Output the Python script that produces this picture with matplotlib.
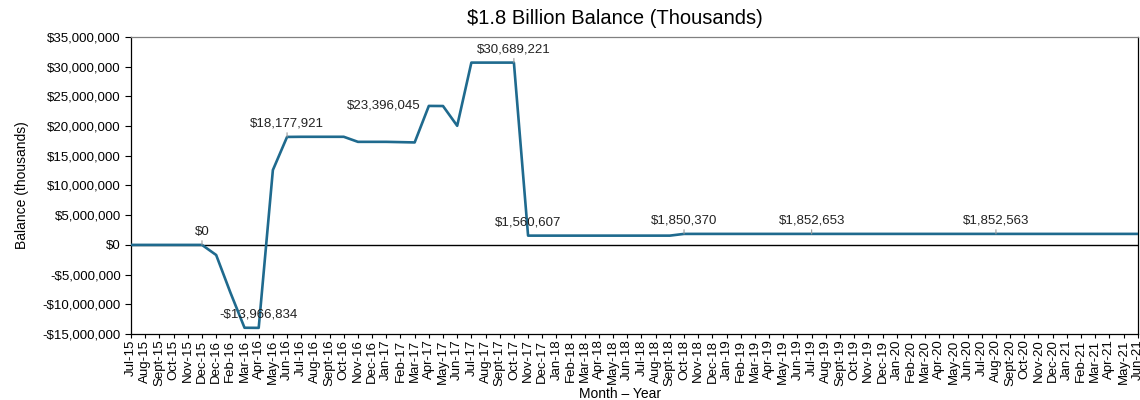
import matplotlib as mpl
mpl.use('Agg')
import matplotlib.pyplot as plt
from matplotlib.ticker import FuncFormatter

plt.rcParams['font.family'] = ['Liberation Sans', 'DejaVu Sans']

# month labels, as they appear on the original chart (note the repeated Dec-16)
months = ['Jul-15', 'Aug-15', 'Sept-15', 'Oct-15', 'Nov-15', 'Dec-15',
          'Dec-16', 'Feb-16', 'Mar-16', 'Apr-16', 'May-16', 'Jun-16',
          'Jul-16', 'Aug-16', 'Sept-16', 'Oct-16', 'Nov-16', 'Dec-16',
          'Jan-17', 'Feb-17', 'Mar-17', 'Apr-17', 'May-17', 'Jun-17',
          'Jul-17', 'Aug-17', 'Sept-17', 'Oct-17', 'Nov-17', 'Dec-17',
          'Jan-18', 'Feb-18', 'Mar-18', 'Apr-18', 'May-18', 'Jun-18',
          'Jul-18', 'Aug-18', 'Sept-18', 'Oct-18', 'Nov-18', 'Dec-18',
          'Jan-19', 'Feb-19', 'Mar-19', 'Apr-19', 'May-19', 'Jun-19',
          'Jul-19', 'Aug-19', 'Sept-19', 'Oct-19', 'Nov-19', 'Dec-19',
          'Jan-20', 'Feb-20', 'Mar-20', 'Apr-20', 'May-20', 'Jun-20',
          'Jul-20', 'Aug-20', 'Sept-20', 'Oct-20', 'Nov-20', 'Dec-20',
          'Jan-21', 'Feb-21', 'Mar-21', 'Apr-21', 'May-21', 'Jun-21']

# balance in thousands of dollars
balance = [0, 0, 0, 0, 0, 0,
           -1700000, -8000000, -13950000, -13966834, 12600000, 18177921,
           18200000, 18200000, 18200000, 18200000, 17350000, 17350000,
           17350000, 17300000, 17250000, 23396045, 23380000, 20050000,
           30689221, 30689221, 30689221, 30689221, 1560607, 1560607,
           1560607, 1560607, 1560607, 1560607, 1560607, 1560607,
           1560607, 1560607, 1560607, 1850370, 1852600, 1852600,
           1852600, 1852600, 1852600, 1852600, 1852600, 1852600,
           1852653, 1852600, 1852600, 1852600, 1852600, 1852600,
           1852600, 1852600, 1852600, 1852600, 1852600, 1852600,
           1852600, 1852563, 1852563, 1852563, 1852563, 1852563,
           1852563, 1852563, 1852563, 1852563, 1852563, 1852563]

# which points get a data label, and where the label sits
label_idx = [5, 9, 11, 21, 27, 28, 39, 48, 61]
label_left = [21]          # these go to the left of the point
leader_idx = [5, 11, 27, 39, 48, 61]   # these show a little leader tick

line_color = '#1f6a8e'

fig = plt.figure(figsize=(11.4, 4), dpi=100)
ax = fig.add_axes([0.115, 0.165, 0.883, 0.7425])

x = list(range(len(months)))
ax.axhline(0, color='black', lw=1, zorder=1)
ax.plot(x, balance, color=line_color, lw=1.9, zorder=3)


def money(v):
    if v < 0:
        return '-${:,.0f}'.format(-v)
    return '${:,.0f}'.format(v)


for i in label_idx:
    v = balance[i]
    if i in label_left:
        ax.annotate(money(v), (i, v), xytext=(-6, 0), textcoords='offset points',
                    ha='right', va='center', fontsize=9.5, color='#222222')
    elif i in leader_idx:
        ax.annotate(money(v), (i, v), xytext=(0, 5), textcoords='offset points',
                    ha='center', va='bottom', fontsize=9.5, color='#222222',
                    arrowprops=dict(arrowstyle='-', color='#999999', lw=0.8,
                                    shrinkA=0, shrinkB=0))
    else:
        ax.annotate(money(v), (i, v), xytext=(0, 5), textcoords='offset points',
                    ha='center', va='bottom', fontsize=9.5, color='#222222')

ax.set_xlim(0, len(months) - 1)
ax.set_ylim(-15000000, 35000000)
ax.set_yticks(range(-15000000, 35000001, 5000000))
ax.yaxis.set_major_formatter(FuncFormatter(lambda v, p: money(v)))
ax.set_xticks(x)
ax.set_xticklabels(months, rotation=90, fontsize=9.5)
ax.tick_params(axis='y', labelsize=9.5, length=4, direction='out')
ax.tick_params(axis='x', length=3, direction='out', pad=1)

for s in ['left', 'bottom', 'right']:
    ax.spines[s].set_color('black')
    ax.spines[s].set_linewidth(0.9)
ax.spines['top'].set_color('#808080')
ax.spines['top'].set_linewidth(0.9)

ax.set_ylabel('Balance (thousands)', fontsize=10, labelpad=10)
ax.set_xlabel('Month \u2013 Year', fontsize=10)
ax.xaxis.set_label_coords(0.486, -0.18)
fig.text(0.539, 0.953, '$1.8 Billion Balance (Thousands)', ha='center',
         va='center', fontsize=14.5)

plt.savefig('out.png', dpi=100)
